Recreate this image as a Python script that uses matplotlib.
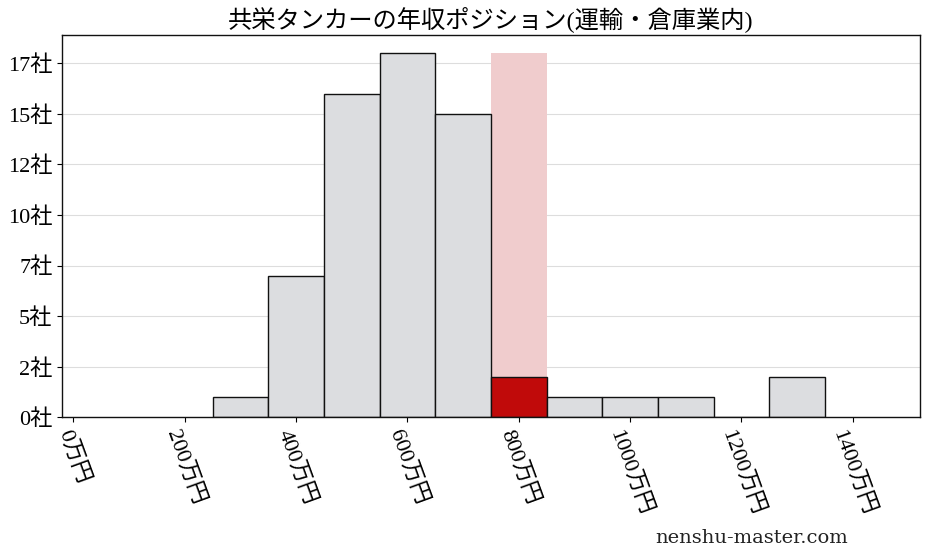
import matplotlib
matplotlib.use('Agg')
import matplotlib.pyplot as plt
import numpy as np

# 数字は明朝風、漢字・かなはCJKフォントで
plt.rcParams['font.family'] = ['Liberation Serif', 'Noto Sans CJK JP', 'DejaVu Sans']

# 年収の階級（下端, 万円）と社数
bin_left = [250, 350, 450, 550, 650, 750, 850, 950, 1050, 1150, 1250]
counts = [1, 7, 16, 18, 15, 2, 1, 1, 1, 0, 2]
target_left = 750
bin_width = 100

x_ticks = [0, 200, 400, 600, 800, 1000, 1200, 1400]
y_ticks = [0, 2.5, 5, 7.5, 10, 12.5, 15, 17.5]

title = '共栄タンカーの年収ポジション(運輸・倉庫業内)'

fig, ax = plt.subplots(figsize=(9.28, 5.57), dpi=100)
fig.subplots_adjust(left=0.067, right=0.991, top=0.937, bottom=0.251)

ax.grid(axis='y', color='#dddddd', linewidth=0.8, zorder=0)
ax.set_axisbelow(True)

# 対象企業の階級をハイライト
ax.bar(target_left, max(counts), width=bin_width, align='edge',
       color='#f0cccd', zorder=1)

colors = ['#c00a0a' if b == target_left else '#dcdde0' for b in bin_left]
ax.bar(bin_left, counts, width=bin_width, align='edge', color=colors,
       edgecolor='#111111', linewidth=1.0, zorder=2)

ax.set_xlim(-20, 1520)
ax.set_ylim(0, max(counts) * 1.05)
ax.set_xticks(x_ticks)
ax.set_xticklabels([f'{v}万円' for v in x_ticks], rotation=-70, fontsize=16)
ax.set_yticks(y_ticks)
ax.set_yticklabels([f'{int(v)}社' for v in y_ticks], fontsize=16)
ax.set_title(title, fontsize=17.5, pad=6)

for s in ax.spines.values():
    s.set_color('#111111')
    s.set_linewidth(1.0)

fig.text(0.914, 0.035, 'nenshu-master.com', fontsize=14, ha='right',
         va='center', family=['DejaVu Serif'], color='#222222')

plt.savefig('out.png', dpi=100)
